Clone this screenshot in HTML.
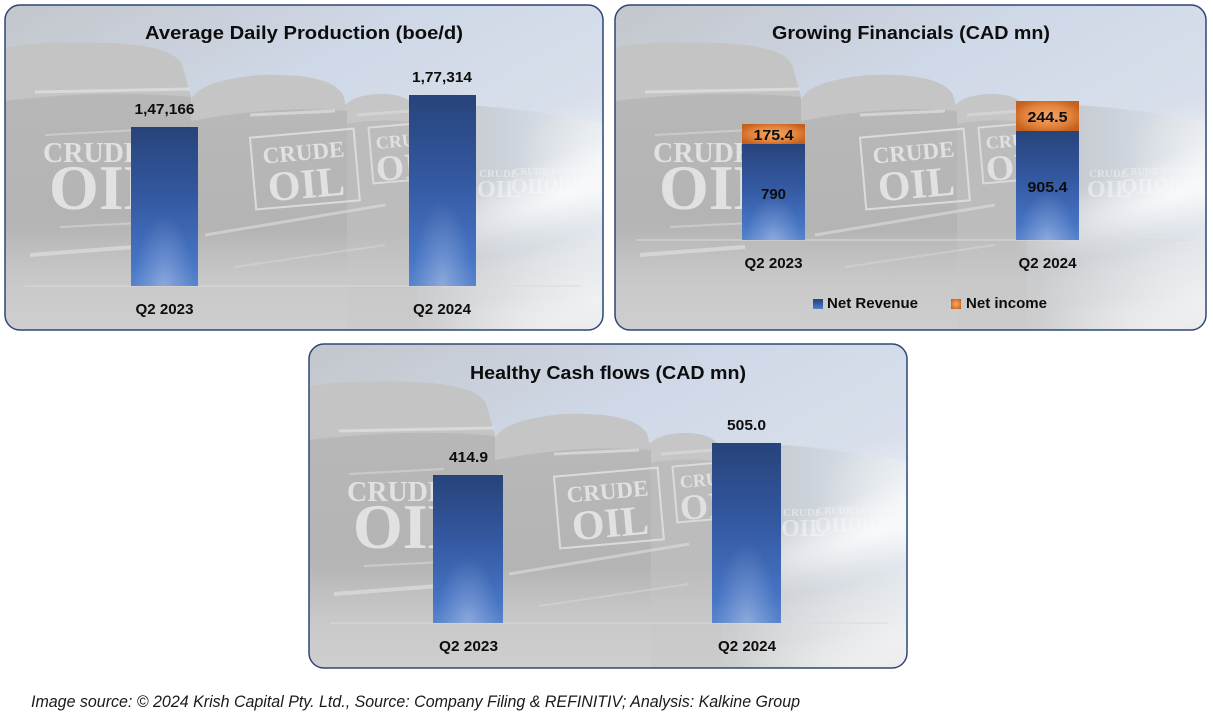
<!DOCTYPE html>
<html><head><meta charset="utf-8">
<style>
html,body{margin:0;padding:0;background:#fff;}
svg{display:block;}
.t{font-family:"Liberation Sans",sans-serif;font-weight:bold;fill:#0d0d0d;}
.cr{font-family:"Liberation Serif",serif;font-weight:bold;fill:#e9e9e9;}
</style></head>
<body>
<svg width="1213" height="719" viewBox="0 0 1213 719" xmlns="http://www.w3.org/2000/svg">
<defs>
  <linearGradient id="sky" x1="0" y1="0" x2="1" y2="1">
    <stop offset="0" stop-color="#c3c6cb"/>
    <stop offset="0.35" stop-color="#cfd8e7"/>
    <stop offset="0.65" stop-color="#d9e0ec"/>
    <stop offset="1" stop-color="#e8eaee"/>
  </linearGradient>
  <linearGradient id="far" x1="0" y1="0" x2="1" y2="0">
    <stop offset="0" stop-color="#bfc1c4"/>
    <stop offset="0.5" stop-color="#cdd3db"/>
    <stop offset="1" stop-color="#e3e8ee"/>
  </linearGradient>
  <linearGradient id="body1" x1="0" y1="0" x2="0" y2="1">
    <stop offset="0" stop-color="#b9b9b9"/>
    <stop offset="0.6" stop-color="#b4b4b4"/>
    <stop offset="1" stop-color="#c4c4c4"/>
  </linearGradient>
  <linearGradient id="floorV" x1="0" y1="0" x2="0" y2="1">
    <stop offset="0" stop-color="#d8d8d8" stop-opacity="0"/>
    <stop offset="0.5" stop-color="#d6d6d6" stop-opacity="0.45"/>
    <stop offset="1" stop-color="#d2d2d2" stop-opacity="0.7"/>
  </linearGradient>
  <radialGradient id="glow" cx="0.5" cy="0.5" r="0.5">
    <stop offset="0" stop-color="#ffffff" stop-opacity="0.95"/>
    <stop offset="1" stop-color="#ffffff" stop-opacity="0"/>
  </radialGradient>
  <linearGradient id="bar" x1="0" y1="0" x2="0" y2="1">
    <stop offset="0" stop-color="#27437a"/>
    <stop offset="0.45" stop-color="#3459a2"/>
    <stop offset="0.85" stop-color="#4674c4"/>
    <stop offset="1" stop-color="#5a84cc"/>
  </linearGradient>
  <radialGradient id="barHi" cx="0.5" cy="1" r="0.45" fx="0.5" fy="1">
    <stop offset="0" stop-color="#ffffff" stop-opacity="0.3"/>
    <stop offset="1" stop-color="#ffffff" stop-opacity="0"/>
  </radialGradient>
  <radialGradient id="org" cx="0.5" cy="0.5" r="0.6">
    <stop offset="0" stop-color="#f3a766"/>
    <stop offset="0.6" stop-color="#e3833c"/>
    <stop offset="1" stop-color="#c3601c"/>
  </radialGradient>
  <clipPath id="c1"><rect x="0" y="0" width="598" height="325" rx="15"/></clipPath>
  <clipPath id="c2"><rect x="0" y="0" width="591" height="325" rx="15"/></clipPath>
  <clipPath id="c3"><rect x="0" y="0" width="598" height="324" rx="15"/></clipPath>
  <g id="bg">
    <rect width="600" height="325" fill="url(#sky)"/>
    <path d="M405,325 L405,110 Q420,98 460,100 Q510,103 550,110 Q585,114 600,118 L600,325 Z" fill="url(#far)"/>
    <path d="M336,325 L336,106 Q344,90 375,89 Q406,89 412,106 L412,325 Z" fill="#bcbcbc"/>
    <path d="M336,106 Q344,90 375,89 Q406,89 412,106 L412,118 Q375,112 336,120 Z" fill="#c6c6c6"/>
    <path d="M185,325 L185,98 Q190,76 255,70 Q326,68 338,90 L342,106 L342,325 Z" fill="url(#body1)"/>
    <path d="M185,98 Q190,76 255,70 Q326,68 338,90 L342,106 Q270,100 186,116 Z" fill="#c5c5c5"/>
    <path d="M0,325 L0,44 Q20,36 100,38 Q168,40 177,60 L186,92 L186,325 Z" fill="url(#body1)"/>
    <path d="M0,44 Q20,36 100,38 Q168,40 177,60 L186,92 Q100,84 0,96 Z" fill="#c4c4c4"/>
    <path d="M30,87 L185,84" stroke="#e2e2e2" stroke-width="3" opacity="0.7"/>
    <path d="M40,130 L135,125" stroke="#d8d8d8" stroke-width="2" opacity="0.6"/>
    <path d="M55,222 L135,218" stroke="#d8d8d8" stroke-width="2" opacity="0.6"/>
    <path d="M25,250 L130,242" stroke="#e6e6e6" stroke-width="4" opacity="0.6"/>
    <path d="M245,110 L330,106" stroke="#e0e0e0" stroke-width="3" opacity="0.7"/>
    <path d="M200,230 L380,200" stroke="#e2e2e2" stroke-width="3" opacity="0.55"/>
    <path d="M230,262 L380,240" stroke="#d8d8d8" stroke-width="2" opacity="0.5"/>
    <path d="M352,110 L405,106" stroke="#dcdcdc" stroke-width="3" opacity="0.6"/>
    <text class="cr" x="38" y="157" font-size="28" opacity="0.85">CRUDE</text>
    <text class="cr" x="44" y="204" font-size="64" opacity="0.85">OIL</text>
    <g transform="rotate(-5,300,165)" opacity="0.85">
      <rect x="248" y="128" width="104" height="72" fill="none" stroke="#e2e2e2" stroke-width="2"/>
      <text class="cr" x="300" y="155" font-size="23" text-anchor="middle">CRUDE</text>
      <text class="cr" x="300" y="193" font-size="42" text-anchor="middle">OIL</text>
    </g>
    <g transform="rotate(-5,395,150)" opacity="0.8">
      <rect x="366" y="120" width="62" height="56" fill="none" stroke="#e2e2e2" stroke-width="2"/>
      <text class="cr" x="372" y="142" font-size="18">CRUDE</text>
      <text class="cr" x="370" y="174" font-size="36">OIL</text>
    </g>
    <g opacity="0.75">
      <text class="cr" x="474" y="172" font-size="11">CRUDE</text>
      <text class="cr" x="472" y="192" font-size="24">OIL</text>
      <text class="cr" x="508" y="170" font-size="10">CRUDE</text>
      <text class="cr" x="506" y="188" font-size="21">OIL</text>
      <text class="cr" x="540" y="169" font-size="9">CRUDE</text>
      <text class="cr" x="539" y="185" font-size="18">OIL</text>
      <text class="cr" x="569" y="168" font-size="8">CRUDE</text>
      <text class="cr" x="568" y="182" font-size="15">OIL</text>
    </g>
    <ellipse cx="560" cy="190" rx="170" ry="42" transform="rotate(-18,560,190)" fill="url(#glow)" opacity="0.85"/>
    <ellipse cx="600" cy="150" rx="90" ry="60" fill="url(#glow)" opacity="0.5"/>
    <rect x="0" y="225" width="600" height="100" fill="url(#floorV)"/>
    <ellipse cx="590" cy="295" rx="170" ry="75" fill="url(#glow)" opacity="0.6"/>
    <ellipse cx="540" cy="320" rx="120" ry="30" fill="url(#glow)" opacity="0.4"/>
  </g>
</defs>

<!-- Panel 1 -->
<g transform="translate(5,5)">
  <g clip-path="url(#c1)"><use href="#bg"/></g>
  <rect x="0" y="0" width="598" height="325" rx="15" fill="none" stroke="#2e4676" stroke-width="1.5"/>
</g>
<line x1="25" y1="286" x2="581" y2="286" stroke="#dadada" stroke-width="1"/>
<rect x="131" y="127" width="67" height="159" fill="url(#bar)"/>
<rect x="131" y="127" width="67" height="159" fill="url(#barHi)"/>
<rect x="409" y="95" width="67" height="191" fill="url(#bar)"/>
<rect x="409" y="95" width="67" height="191" fill="url(#barHi)"/>
<text class="t" x="304" y="39" font-size="18" text-anchor="middle" textLength="318" lengthAdjust="spacingAndGlyphs">Average Daily Production (boe/d)</text>
<text class="t" x="164.5" y="114" font-size="15" text-anchor="middle" textLength="60" lengthAdjust="spacingAndGlyphs">1,47,166</text>
<text class="t" x="442" y="82" font-size="15" text-anchor="middle" textLength="60" lengthAdjust="spacingAndGlyphs">1,77,314</text>
<text class="t" x="164.5" y="314" font-size="15" text-anchor="middle" textLength="58" lengthAdjust="spacingAndGlyphs">Q2 2023</text>
<text class="t" x="442" y="314" font-size="15" text-anchor="middle" textLength="58" lengthAdjust="spacingAndGlyphs">Q2 2024</text>

<!-- Panel 2 -->
<g transform="translate(615,5)">
  <g clip-path="url(#c2)"><use href="#bg"/></g>
  <rect x="0" y="0" width="591" height="325" rx="15" fill="none" stroke="#2e4676" stroke-width="1.5"/>
</g>
<line x1="636" y1="240" x2="1190" y2="240" stroke="#dadada" stroke-width="1"/>
<rect x="742" y="144" width="63" height="96" fill="url(#bar)"/>
<rect x="742" y="144" width="63" height="96" fill="url(#barHi)"/>
<rect x="742" y="124" width="63" height="20" fill="url(#org)"/>
<rect x="1016" y="131" width="63" height="109" fill="url(#bar)"/>
<rect x="1016" y="131" width="63" height="109" fill="url(#barHi)"/>
<rect x="1016" y="101" width="63" height="30" fill="url(#org)"/>
<text class="t" x="911" y="39" font-size="18" text-anchor="middle" textLength="278" lengthAdjust="spacingAndGlyphs">Growing Financials (CAD mn)</text>
<text class="t" x="773.5" y="140" font-size="15" text-anchor="middle" textLength="40" lengthAdjust="spacingAndGlyphs">175.4</text>
<text class="t" x="773.5" y="199" font-size="15" text-anchor="middle" textLength="25" lengthAdjust="spacingAndGlyphs">790</text>
<text class="t" x="1047.5" y="122" font-size="15" text-anchor="middle" textLength="40" lengthAdjust="spacingAndGlyphs">244.5</text>
<text class="t" x="1047.5" y="192" font-size="15" text-anchor="middle" textLength="40" lengthAdjust="spacingAndGlyphs">905.4</text>
<text class="t" x="773.5" y="268" font-size="15" text-anchor="middle" textLength="58" lengthAdjust="spacingAndGlyphs">Q2 2023</text>
<text class="t" x="1047.5" y="268" font-size="15" text-anchor="middle" textLength="58" lengthAdjust="spacingAndGlyphs">Q2 2024</text>
<rect x="813" y="299" width="10" height="10" fill="url(#bar)"/>
<text class="t" x="827" y="308" font-size="15" textLength="91" lengthAdjust="spacingAndGlyphs">Net Revenue</text>
<rect x="951" y="299" width="10" height="10" fill="url(#org)"/>
<text class="t" x="966" y="308" font-size="15" textLength="81" lengthAdjust="spacingAndGlyphs">Net income</text>

<!-- Panel 3 -->
<g transform="translate(309,344)">
  <g clip-path="url(#c3)"><use href="#bg"/></g>
  <rect x="0" y="0" width="598" height="324" rx="15" fill="none" stroke="#2e4676" stroke-width="1.5"/>
</g>
<line x1="330" y1="623" x2="888" y2="623" stroke="#dadada" stroke-width="1"/>
<rect x="433" y="475" width="70" height="148" fill="url(#bar)"/>
<rect x="433" y="475" width="70" height="148" fill="url(#barHi)"/>
<rect x="712" y="443" width="69" height="180" fill="url(#bar)"/>
<rect x="712" y="443" width="69" height="180" fill="url(#barHi)"/>
<text class="t" x="608" y="379" font-size="18" text-anchor="middle" textLength="276" lengthAdjust="spacingAndGlyphs">Healthy Cash flows (CAD mn)</text>
<text class="t" x="468.5" y="462" font-size="15" text-anchor="middle" textLength="39" lengthAdjust="spacingAndGlyphs">414.9</text>
<text class="t" x="746.5" y="430" font-size="15" text-anchor="middle" textLength="39" lengthAdjust="spacingAndGlyphs">505.0</text>
<text class="t" x="468.5" y="651" font-size="15" text-anchor="middle" textLength="59" lengthAdjust="spacingAndGlyphs">Q2 2023</text>
<text class="t" x="747" y="651" font-size="15" text-anchor="middle" textLength="58" lengthAdjust="spacingAndGlyphs">Q2 2024</text>

<!-- Footer -->
<text x="31" y="707" font-family="Liberation Sans, sans-serif" font-style="italic" font-size="16.5" fill="#1a1a1a" textLength="769" lengthAdjust="spacingAndGlyphs">Image source: © 2024 Krish Capital Pty. Ltd., Source: Company Filing &amp; REFINITIV; Analysis: Kalkine Group</text>
</svg>
</body></html>
